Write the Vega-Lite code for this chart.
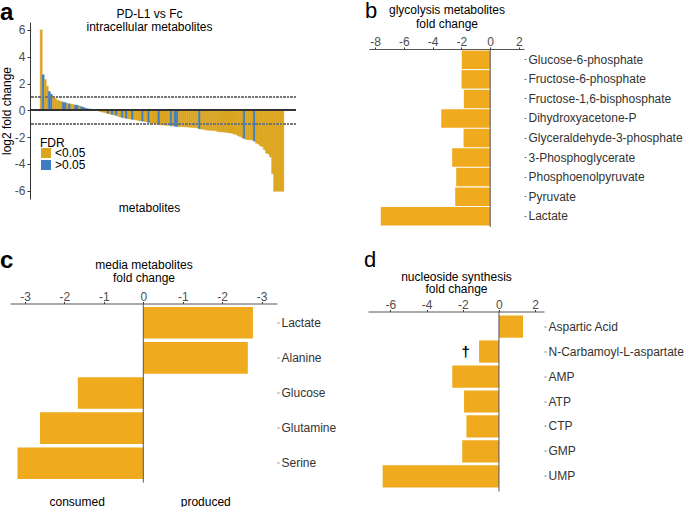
{
 "$schema": "https://vega.github.io/schema/vega-lite/v6.json",
 "background": "white",
 "padding": 0,
 "columns": 2,
 "spacing": {"row": -1, "column": -1},
 "align": "none",
 "bounds": "full",
 "resolve": {"scale": {"color": "independent", "stroke": "independent"}, "legend": {"color": "independent", "stroke": "independent"}},
 "config": {
  "font": "Liberation Sans",
  "view": {"stroke": null},
  "axis": {"grid": false, "labelOverlap": false, "tickCount": 20, "labelFont": "Liberation Sans", "titleFont": "Liberation Sans", "labelFontSize": 12, "labelColor": "#4d4d4d", "titleFontSize": 12, "titleFontWeight": "normal", "titleColor": "#000000", "domainColor": "#333333", "tickColor": "#333333"},
  "title": {"fontSize": 22, "anchor": "start", "frame": "group", "offset": 0, "baseline": "alphabetic", "color": "#000000", "font": "Liberation Sans"}
 },
 "concat": [
  {"width": 1, "height": 1, "data": {"values": []}, "mark": "point", "encoding": {}},
  {"width": 1, "height": 1, "data": {"values": []}, "mark": "point", "encoding": {}},
  {"width": 1, "height": 1, "data": {"values": []}, "mark": "point", "encoding": {}},
  {
   "columns": 2,
   "spacing": {"row": -1, "column": 68},
   "align": "none",
   "bounds": "full",
   "resolve": {"scale": {"color": "independent", "stroke": "independent"}, "legend": {"color": "independent", "stroke": "independent"}},
   "concat": [
    {"width": 1, "height": 1, "data": {"values": []}, "mark": "point", "encoding": {}},
    {"width": 1, "height": 1, "data": {"values": []}, "mark": "point", "encoding": {}},
    {
     "width": 266, "height": 177,
     "title": {"text": "a", "fontWeight": "bold", "fontSize": 24, "dx": -30, "dy": 21},
     "data": {"values": [
      {"id":0,"fc":6.0,"fdr":"<0.05"},{"id":1,"fc":2.65,"fdr":">0.05"},{"id":2,"fc":2.3,"fdr":"<0.05"},{"id":3,"fc":1.8,"fdr":"<0.05"},{"id":4,"fc":1.4,"fdr":">0.05"},{"id":5,"fc":1.2,"fdr":">0.05"},{"id":6,"fc":1.05,"fdr":"<0.05"},{"id":7,"fc":0.9,"fdr":"<0.05"},{"id":8,"fc":0.75,"fdr":"<0.05"},{"id":9,"fc":0.7,"fdr":"<0.05"},
      {"id":10,"fc":0.65,"fdr":"<0.05"},{"id":11,"fc":0.6,"fdr":">0.05"},{"id":12,"fc":0.56,"fdr":">0.05"},{"id":13,"fc":0.52,"fdr":"<0.05"},{"id":14,"fc":0.48,"fdr":">0.05"},{"id":15,"fc":0.45,"fdr":"<0.05"},{"id":16,"fc":0.42,"fdr":"<0.05"},{"id":17,"fc":0.39,"fdr":">0.05"},{"id":18,"fc":0.36,"fdr":">0.05"},{"id":19,"fc":0.32,"fdr":"<0.05"},
      {"id":20,"fc":0.26,"fdr":">0.05"},{"id":21,"fc":0.2,"fdr":">0.05"},{"id":22,"fc":0.14,"fdr":">0.05"},{"id":23,"fc":0.11,"fdr":">0.05"},{"id":24,"fc":0.09,"fdr":">0.05"},{"id":25,"fc":0.07,"fdr":">0.05"},{"id":26,"fc":0.05,"fdr":"<0.05"},{"id":27,"fc":0.03,"fdr":"<0.05"},{"id":28,"fc":-0.03,"fdr":"<0.05"},{"id":29,"fc":-0.08,"fdr":"<0.05"},
      {"id":30,"fc":-0.12,"fdr":"<0.05"},{"id":31,"fc":-0.16,"fdr":"<0.05"},{"id":32,"fc":-0.2,"fdr":"<0.05"},{"id":33,"fc":-0.24,"fdr":">0.05"},{"id":34,"fc":-0.28,"fdr":"<0.05"},{"id":35,"fc":-0.32,"fdr":">0.05"},{"id":36,"fc":-0.35,"fdr":"<0.05"},{"id":37,"fc":-0.38,"fdr":">0.05"},{"id":38,"fc":-0.45,"fdr":"<0.05"},{"id":39,"fc":-0.5,"fdr":"<0.05"},
      {"id":40,"fc":-0.54,"fdr":">0.05"},{"id":41,"fc":-0.57,"fdr":"<0.05"},{"id":42,"fc":-0.6,"fdr":">0.05"},{"id":43,"fc":-0.63,"fdr":"<0.05"},{"id":44,"fc":-0.65,"fdr":"<0.05"},{"id":45,"fc":-0.68,"fdr":">0.05"},{"id":46,"fc":-0.7,"fdr":"<0.05"},{"id":47,"fc":-0.72,"fdr":"<0.05"},{"id":48,"fc":-0.76,"fdr":"<0.05"},{"id":49,"fc":-0.79,"fdr":"<0.05"},
      {"id":50,"fc":-0.81,"fdr":">0.05"},{"id":51,"fc":-0.83,"fdr":"<0.05"},{"id":52,"fc":-0.86,"fdr":"<0.05"},{"id":53,"fc":-0.92,"fdr":">0.05"},{"id":54,"fc":-0.96,"fdr":"<0.05"},{"id":55,"fc":-0.98,"fdr":"<0.05"},{"id":56,"fc":-1.0,"fdr":"<0.05"},{"id":57,"fc":-1.02,"fdr":"<0.05"},{"id":58,"fc":-1.05,"fdr":">0.05"},{"id":59,"fc":-1.08,"fdr":"<0.05"},
      {"id":60,"fc":-1.1,"fdr":"<0.05"},{"id":61,"fc":-1.11,"fdr":"<0.05"},{"id":62,"fc":-1.12,"fdr":"<0.05"},{"id":63,"fc":-1.13,"fdr":"<0.05"},{"id":64,"fc":-1.15,"fdr":">0.05"},{"id":65,"fc":-1.17,"fdr":"<0.05"},{"id":66,"fc":-1.19,"fdr":">0.05"},{"id":67,"fc":-1.2,"fdr":">0.05"},{"id":68,"fc":-1.21,"fdr":"<0.05"},{"id":69,"fc":-1.22,"fdr":"<0.05"},
      {"id":70,"fc":-1.23,"fdr":"<0.05"},{"id":71,"fc":-1.24,"fdr":"<0.05"},{"id":72,"fc":-1.25,"fdr":"<0.05"},{"id":73,"fc":-1.26,"fdr":"<0.05"},{"id":74,"fc":-1.27,"fdr":"<0.05"},{"id":75,"fc":-1.28,"fdr":"<0.05"},{"id":76,"fc":-1.3,"fdr":"<0.05"},{"id":77,"fc":-1.32,"fdr":"<0.05"},{"id":78,"fc":-1.38,"fdr":">0.05"},{"id":79,"fc":-1.4,"fdr":"<0.05"},
      {"id":80,"fc":-1.42,"fdr":"<0.05"},{"id":81,"fc":-1.45,"fdr":"<0.05"},{"id":82,"fc":-1.48,"fdr":"<0.05"},{"id":83,"fc":-1.49,"fdr":"<0.05"},{"id":84,"fc":-1.5,"fdr":"<0.05"},{"id":85,"fc":-1.51,"fdr":"<0.05"},{"id":86,"fc":-1.52,"fdr":"<0.05"},{"id":87,"fc":-1.58,"fdr":"<0.05"},{"id":88,"fc":-1.6,"fdr":"<0.05"},{"id":89,"fc":-1.61,"fdr":"<0.05"},
      {"id":90,"fc":-1.62,"fdr":"<0.05"},{"id":91,"fc":-1.64,"fdr":"<0.05"},{"id":92,"fc":-1.67,"fdr":"<0.05"},{"id":93,"fc":-1.69,"fdr":"<0.05"},{"id":94,"fc":-1.71,"fdr":"<0.05"},{"id":95,"fc":-1.77,"fdr":"<0.05"},{"id":96,"fc":-1.8,"fdr":"<0.05"},{"id":97,"fc":-1.9,"fdr":"<0.05"},{"id":98,"fc":-1.95,"fdr":"<0.05"},{"id":99,"fc":-2.04,"fdr":"<0.05"},
      {"id":100,"fc":-2.1,"fdr":">0.05"},{"id":101,"fc":-2.17,"fdr":"<0.05"},{"id":102,"fc":-2.19,"fdr":"<0.05"},{"id":103,"fc":-2.2,"fdr":"<0.05"},{"id":104,"fc":-2.22,"fdr":"<0.05"},{"id":105,"fc":-2.3,"fdr":">0.05"},{"id":106,"fc":-2.45,"fdr":"<0.05"},{"id":107,"fc":-2.52,"fdr":"<0.05"},{"id":108,"fc":-2.65,"fdr":"<0.05"},{"id":109,"fc":-2.72,"fdr":"<0.05"},
      {"id":110,"fc":-2.94,"fdr":"<0.05"},{"id":111,"fc":-3.2,"fdr":"<0.05"},{"id":112,"fc":-3.26,"fdr":"<0.05"},{"id":113,"fc":-3.49,"fdr":"<0.05"},{"id":114,"fc":-4.73,"fdr":"<0.05"},{"id":115,"fc":-6.04,"fdr":"<0.05"},{"id":116,"fc":-6.04,"fdr":"<0.05"},{"id":117,"fc":-6.04,"fdr":"<0.05"},{"id":118,"fc":-6.04,"fdr":"<0.05"},{"id":119,"fc":-6.04,"fdr":"<0.05"}
     ]},
     "resolve": {"axis": {"x": "independent"}},
     "layer": [
      {
       "mark": {"type": "bar", "strokeWidth": 0.5},
       "encoding": {
        "x": {"field": "id", "type": "ordinal", "scale": {"domain": [-5,-4,-3,-2,-1,0,1,2,3,4,5,6,7,8,9,10,11,12,13,14,15,16,17,18,19,20,21,22,23,24,25,26,27,28,29,30,31,32,33,34,35,36,37,38,39,40,41,42,43,44,45,46,47,48,49,50,51,52,53,54,55,56,57,58,59,60,61,62,63,64,65,66,67,68,69,70,71,72,73,74,75,76,77,78,79,80,81,82,83,84,85,86,87,88,89,90,91,92,93,94,95,96,97,98,99,100,101,102,103,104,105,106,107,108,109,110,111,112,113,114,115,116,117,118,119,120,121,122,123,124,125], "paddingInner": 0, "paddingOuter": 0}, "axis": {"orient": "top", "title": ["PD-L1 vs Fc", "intracellular metabolites"], "labels": false, "ticks": false, "domain": false, "titlePadding": -11.5, "titleLineHeight": 13, "titleX": 119}},
        "y": {"field": "fc", "type": "quantitative", "scale": {"domain": [-6.62, 6.59], "nice": false, "zero": false}, "axis": {"values": [-6, -4, -2, 0, 2, 4, 6], "tickCount": 20, "labelOverlap": false, "title": "log2 fold change", "tickSize": 3, "labelPadding": 2, "titlePadding": 1, "labelExpr": "datum.value < 0 ? '-' + abs(datum.value) : '' + datum.value"}},
        "color": {"field": "fdr", "type": "nominal", "scale": {"domain": ["<0.05", ">0.05"], "range": ["#DAA520", "#3C7DC4"]}, "legend": {"orient": "none", "legendX": 10, "legendY": 116, "title": "FDR", "titleFontSize": 12, "titleFontWeight": "normal", "titleColor": "#000000", "titlePadding": -3, "labelFontSize": 12, "labelColor": "#000000", "symbolType": "square", "symbolSize": 100, "symbolStrokeWidth": 0, "rowPadding": -5, "labelOffset": 3}},
        "stroke": {"field": "fdr", "type": "nominal", "scale": {"domain": ["<0.05", ">0.05"], "range": ["#DAA520", "#3C7DC4"]}, "legend": null}
       }
      },
      {
       "mark": {"type": "bar", "opacity": 0},
       "encoding": {
        "x": {"field": "id", "type": "ordinal", "axis": {"orient": "bottom", "title": "metabolites", "labels": false, "ticks": false, "domain": false, "titlePadding": 3, "titleX": 119}}
       }
      },
      {"mark": {"type": "rule", "color": "#777777", "strokeDash": [2, 1.5]}, "encoding": {"y": {"datum": 1}}},
      {"mark": {"type": "rule", "color": "#777777", "strokeDash": [2, 1.5]}, "encoding": {"y": {"datum": -1}}},
      {"mark": {"type": "rule", "color": "#333333"}, "encoding": {"y": {"datum": 0}}}
     ]
    },
    {
     "width": 155, "height": 178,
     "title": {"text": "b", "fontWeight": "normal", "dx": -4, "dy": 24.2},
     "layer": [
      {
       "data": {"values": [
        {"name": "Glucose-6-phosphate", "fc": -1.97},
        {"name": "Fructose-6-phosphate", "fc": -1.99},
        {"name": "Fructose-1,6-bisphosphate", "fc": -1.83},
        {"name": "Dihydroxyacetone-P", "fc": -3.4},
        {"name": "Glyceraldehyde-3-phosphate", "fc": -1.85},
        {"name": "3-Phosphoglycerate", "fc": -2.64},
        {"name": "Phosphoenolpyruvate", "fc": -2.36},
        {"name": "Pyruvate", "fc": -2.43},
        {"name": "Lactate", "fc": -7.6}
       ]},
       "mark": {"type": "bar", "color": "#EFAA1E"},
       "encoding": {
        "y": {"field": "name", "type": "nominal", "sort": null, "scale": {"paddingInner": 0.055, "paddingOuter": 0.08}, "axis": {"orient": "right", "title": null, "domain": false, "tickSize": 2, "tickColor": "#777777", "labelPadding": 2, "labelColor": "#333333", "labelOverlap": false}},
        "x": {"field": "fc", "type": "quantitative", "scale": {"domain": [-8.42, 2.35], "nice": false, "zero": false}, "axis": {"orient": "top", "values": [-8, -6, -4, -2, 0, 2], "tickCount": 20, "labelOverlap": false, "labelExpr": "datum.value < 0 ? '-' + abs(datum.value) : '' + datum.value", "title": ["glycolysis metabolites", "fold change"], "titleLineHeight": 14.5, "titlePadding": 5, "tickSize": 2, "labelPadding": -1.7, "domainColor": "#555555"}}
       }
      },
      {
       "data": {"values": [{"z": 0}]},
       "mark": {"type": "rule", "color": "#555555"},
       "encoding": {"x": {"field": "z", "type": "quantitative"}}
      }
     ]
    }
   ]
  },
  {"width": 1, "height": 1, "data": {"values": []}, "mark": "point", "encoding": {}},
  {
   "columns": 2,
   "spacing": {"row": 20.5, "column": 28},
   "align": "none",
   "bounds": "full",
   "concat": [
    {"width": 1, "height": 1, "data": {"values": []}, "mark": "point", "encoding": {}},
    {"width": 1, "height": 1, "data": {"values": []}, "mark": "point", "encoding": {}},
    {
     "width": 267, "height": 179,
     "title": {"text": "c", "fontWeight": "bold", "fontSize": 24, "dx": -10, "dy": 18.5},
     "resolve": {"axis": {"x": "independent"}},
     "layer": [
      {
       "data": {"values": [
        {"name": "Lactate", "fc": 2.78},
        {"name": "Alanine", "fc": 2.65},
        {"name": "Glucose", "fc": -1.66},
        {"name": "Glutamine", "fc": -2.62},
        {"name": "Serine", "fc": -3.19}
       ]},
       "mark": {"type": "bar", "color": "#EFAA1E"},
       "encoding": {
        "y": {"field": "name", "type": "nominal", "sort": null, "scale": {"paddingInner": 0.1, "paddingOuter": 0.1}, "axis": {"orient": "right", "title": null, "domain": false, "tickSize": 2, "tickColor": "#777777", "labelPadding": 2, "labelColor": "#333333", "labelOverlap": false}},
        "x": {"field": "fc", "type": "quantitative", "scale": {"domain": [-3.38, 3.39], "nice": false, "zero": false}, "axis": {"orient": "top", "values": [-3, -2, -1, 0, 1, 2, 3], "tickCount": 20, "labelOverlap": false, "labelExpr": "datum.value == 0 ? '0' : '-' + abs(datum.value)", "title": ["media metabolites", "fold change"], "titleLineHeight": 13.5, "titlePadding": 5.7, "tickSize": 2, "labelPadding": -1.7, "domainColor": "#555555"}}
       }
      },
      {
       "data": {"values": [{"pos": -1.69, "lab": "consumed"}, {"pos": 1.57, "lab": "produced"}]},
       "mark": {"type": "point", "opacity": 0},
       "encoding": {
        "x": {"field": "pos", "type": "quantitative", "axis": {"orient": "bottom", "values": [-1.69, 1.57], "tickCount": 20, "labelOverlap": false, "labelExpr": "datum.value < 0 ? 'consumed' : 'produced'", "ticks": false, "domain": false, "title": null, "labelPadding": 13.5, "labelColor": "#000000"}}
       }
      },
      {
       "data": {"values": [{"z": 0}]},
       "mark": {"type": "rule", "color": "#555555"},
       "encoding": {"x": {"field": "z", "type": "quantitative", "axis": null}}
      }
     ]
    },
    {
     "width": 176, "height": 180,
     "title": {"text": "d", "fontWeight": "normal", "dx": -4, "dy": 5.6},
     "layer": [
      {
       "data": {"values": [
        {"name": "Aspartic Acid", "fc": 1.33},
        {"name": "N-Carbamoyl-L-aspartate", "fc": -1.1},
        {"name": "AMP", "fc": -2.58},
        {"name": "ATP", "fc": -1.93},
        {"name": "CTP", "fc": -1.8},
        {"name": "GMP", "fc": -2.03},
        {"name": "UMP", "fc": -6.43}
       ]},
       "mark": {"type": "bar", "color": "#EFAA1E"},
       "encoding": {
        "y": {"field": "name", "type": "nominal", "sort": null, "scale": {"paddingInner": 0.11, "paddingOuter": 0.16}, "axis": {"orient": "right", "title": null, "domain": false, "tickSize": 2, "tickColor": "#777777", "labelPadding": 2, "labelColor": "#333333", "labelOverlap": false}},
        "x": {"field": "fc", "type": "quantitative", "scale": {"domain": [-7.24, 2.49], "nice": false, "zero": false}, "axis": {"orient": "top", "values": [-6, -4, -2, 0, 2], "tickCount": 20, "labelOverlap": false, "labelExpr": "datum.value < 0 ? '-' + abs(datum.value) : '' + datum.value", "title": ["nucleoside synthesis", "fold change"], "titleLineHeight": 12, "titlePadding": 3, "tickSize": 2, "labelPadding": -1.7, "domainColor": "#555555"}}
       }
      },
      {
       "data": {"values": [{"name": "N-Carbamoyl-L-aspartate", "fc": -1.84, "mark": "†"}]},
       "mark": {"type": "text", "fontSize": 15, "fontWeight": "bold", "color": "#000000"},
       "encoding": {
        "x": {"field": "fc", "type": "quantitative"},
        "y": {"field": "name", "type": "nominal", "sort": null},
        "text": {"field": "mark"}
       }
      },
      {
       "data": {"values": [{"z": 0}]},
       "mark": {"type": "rule", "color": "#555555"},
       "encoding": {"x": {"field": "z", "type": "quantitative"}}
      }
     ]
    }
   ]
  }
 ]
}
